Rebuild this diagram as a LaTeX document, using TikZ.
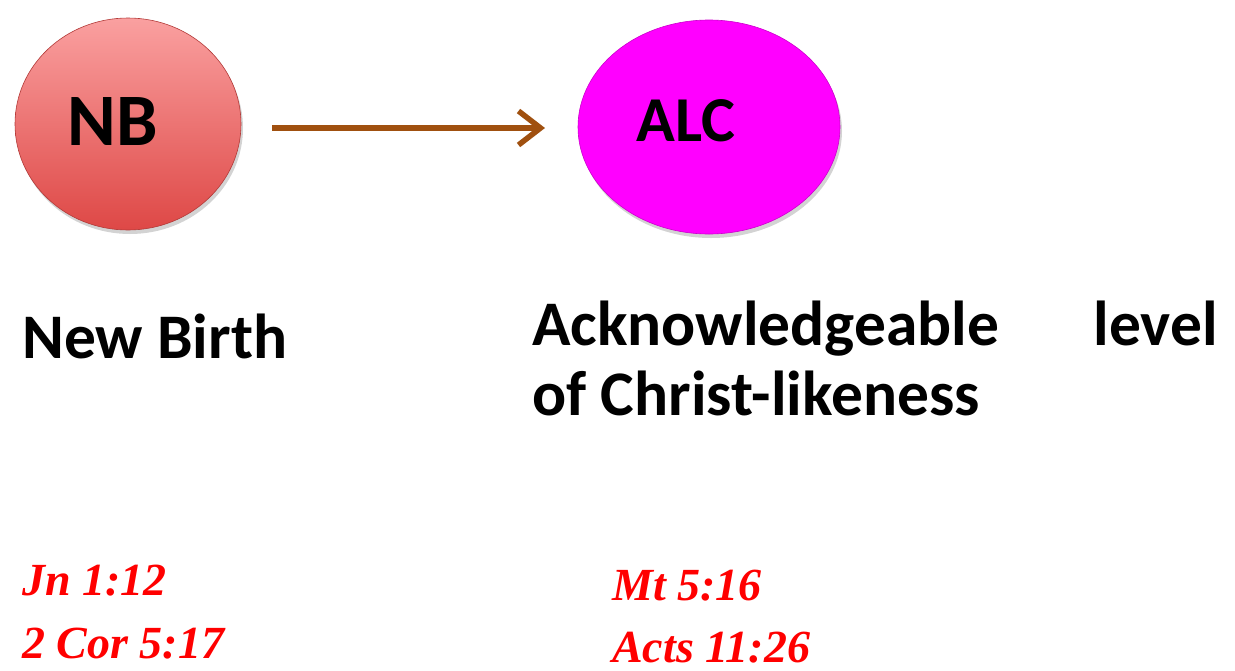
\documentclass[tikz,border=0pt]{standalone}
\usepackage{fontspec}
\setmainfont{Carlito}
\newfontfamily\reffont{Liberation Serif}
\usetikzlibrary{shadows,arrows.meta,shapes.geometric}
\definecolor{nbtop}{RGB}{250,160,160}
\definecolor{nbbot}{RGB}{222,72,70}
\definecolor{alcmag}{RGB}{255,0,255}
\definecolor{arrowbrown}{RGB}{160,80,15}
\definecolor{refred}{RGB}{255,0,0}
\tikzset{
  bubble/.style={ellipse, draw=none, drop shadow={shadow xshift=2pt, shadow yshift=-4pt, opacity=0.35}, inner sep=0pt},
  bigtxt/.style={font=\fontsize{63.5}{70}\selectfont\bfseries, anchor=base west, inner sep=0pt},
  reftxt/.style={font=\reffont\fontsize{46}{50}\selectfont\bfseries\itshape, text=refred, anchor=base west, inner sep=0pt},
  flow/.style={draw=arrowbrown, line width=5.5pt, -{Straight Barb[length=22pt,width=34pt,line width=5.5pt]}}
}
\begin{document}
\begin{tikzpicture}[x=1pt,y=-1pt]
\useasboundingbox (0,0) rectangle (1235,670);
\node[bubble, minimum width=226pt, minimum height=212pt, top color=nbtop, bottom color=nbbot, draw=nbbot!80!black, line width=0.6pt] (nb) at (128,124) {};
\node[font=\fontsize{74}{80}\selectfont\bfseries, inner sep=0pt, anchor=base] (nbt) at (113,145) {NB};
\node[bubble, minimum width=262pt, minimum height=214pt, fill=alcmag, draw=alcmag!80!black, line width=0.6pt] (alc) at (709,127) {};
\node[font=\fontsize{64}{70}\selectfont\bfseries, inner sep=0pt, anchor=base] (alct) at (686,141) {ALC};
\coordinate (a1) at (272,128);
\coordinate (a2) at (545,128);
\draw[flow] (a1) -- (a2);
\node[bigtxt] (newbirth) at (22,358) {New Birth};
\node[bigtxt] (ack) at (532,345) {Acknowledgeable};
\node[bigtxt, anchor=base east] (level) at (1218,345) {level};
\node[bigtxt] (christ) at (532,415) {of Christ-likeness};
\node[reftxt] (r1) at (22,595) {Jn 1:12};
\node[reftxt] (r2) at (22,658) {2 Cor 5:17};
\node[reftxt] (r3) at (612,600) {Mt 5:16};
\node[reftxt] (r4) at (612,662) {Acts 11:26};
\end{tikzpicture}
\end{document}
